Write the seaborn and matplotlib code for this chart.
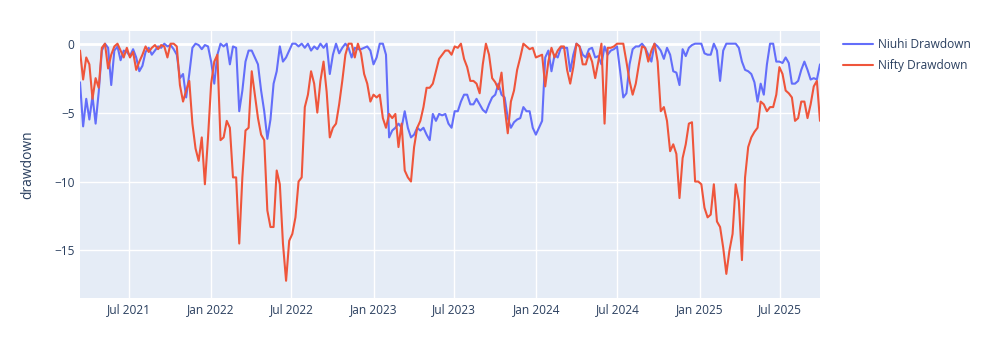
import numpy as np
import pandas as pd
import matplotlib
matplotlib.use("Agg")
import matplotlib.pyplot as plt
import matplotlib.dates as mdates
import seaborn as sns

# Weekly drawdown (%) of the Niuhi portfolio and the Nifty index
start_date = "2021-03-14"
niuhi = [
    -2.8, -6.0, -4.0, -5.5, -3.8, -5.8, -3.5, -0.5, 0.0, -0.3,
    -3.0, -0.5, -0.2, -1.2, -0.5, -0.6, -0.9, -0.4, -1.0, -2.0,
    -1.6, -0.6, -0.3, -0.8, -0.5, -0.2, -0.3, 0.0, -0.2, -0.1,
    -0.4, -0.8, -2.5, -2.2, -3.9, -2.2, -0.3, 0.0, -0.1, -0.4,
    -0.1, -0.2, -1.3, -2.9, -0.8, 0.0, -0.2, 0.0, -1.5, -0.2,
    -0.3, -4.9, -3.4, -1.3, -0.5, -0.5, -1.0, -1.5, -3.4, -4.9,
    -6.9, -5.5, -2.9, -2.0, -0.2, -1.3, -1.0, -0.5, 0.0, 0.0,
    -0.2, 0.0, -0.3, 0.0, -0.5, -0.2, -0.4, 0.0, -0.3, 0.0,
    -2.2, -0.8, 0.0, -0.7, -0.3, 0.0, -0.3, -1.0, -0.3, -0.4,
    -0.4, -0.3, -0.2, -0.5, -1.5, -1.0, 0.0, 0.0, -0.8, -6.8,
    -6.3, -6.1, -5.8, -6.1, -4.9, -6.1, -6.8, -6.6, -6.1, -6.3,
    -6.1, -6.6, -7.0, -5.1, -5.6, -5.1, -5.2, -5.1, -5.8, -6.1,
    -4.9, -4.9, -4.2, -3.7, -3.7, -4.4, -4.4, -4.0, -4.4, -4.8,
    -5.0, -4.4, -3.9, -3.7, -2.9, -3.7, -3.9, -5.4, -6.1, -5.7,
    -5.5, -5.4, -4.6, -4.9, -4.9, -6.1, -6.6, -6.1, -5.6, -1.0,
    -0.5, -2.0, -0.8, -1.0, -0.3, -0.3, -0.3, -2.0, -0.8, 0.0,
    -0.2, -0.8, -1.0, -0.4, -0.3, -1.0, -0.9, -1.5, -0.2, -0.8,
    -0.5, -0.4, -0.2, -2.0, -3.9, -3.6, -1.5, -0.4, -0.2, -0.2,
    0.0, -0.3, -0.8, -1.3, 0.0, -0.2, -0.5, -1.1, -0.3, -0.8,
    -2.0, -2.1, -3.0, -0.4, -0.9, -0.3, -0.1, 0.0, 0.0, 0.0,
    -0.7, -0.8, -0.8, 0.0, -0.5, -2.7, -0.5, 0.0, 0.0, 0.0,
    0.0, -0.3, -1.3, -1.9, -2.0, -2.2, -2.8, -4.2, -2.9, -3.7,
    -1.5, 0.0, 0.0, -1.3, -1.3, -1.4, -1.0, -1.4, -2.9, -2.9,
    -2.7, -1.9, -1.3, -1.9, -2.6, -2.5, -2.6, -1.5,
]
nifty = [
    -0.5, -2.6, -1.0, -1.5, -4.0, -2.5, -3.2, -0.3, 0.0, -1.8,
    -0.8, -0.2, 0.0, -0.5, -1.0, -0.3, -1.0, -0.6, -1.9, -1.3,
    -0.8, -0.2, -0.6, -0.3, -0.1, -0.4, -0.1, -0.2, -1.0, 0.0,
    0.0, -0.2, -3.0, -4.2, -3.4, -2.7, -5.8, -7.6, -8.5, -6.8,
    -10.2, -6.8, -2.9, -1.3, -0.8, -7.0, -6.8, -5.6, -6.1, -9.7,
    -9.7, -14.5, -9.7, -6.3, -6.1, -2.0, -3.7, -5.4, -6.6, -7.0,
    -12.1, -13.3, -13.3, -9.2, -10.2, -14.5, -17.2, -14.3, -13.8, -12.6,
    -10.0, -9.7, -4.6, -3.7, -2.0, -2.9, -5.0, -2.7, -1.3, -3.5,
    -6.8, -6.1, -5.8, -4.4, -2.7, -0.8, 0.0, 0.0, -1.0, 0.0,
    -0.7, -2.2, -2.9, -4.2, -3.7, -3.9, -3.7, -5.4, -6.1, -5.1,
    -5.4, -5.1, -7.5, -5.8, -9.2, -9.7, -10.0, -7.5, -6.1, -5.6,
    -4.6, -3.2, -3.2, -2.9, -2.0, -1.1, -0.8, -0.5, -0.5, -0.8,
    -0.2, -0.3, 0.0, -1.1, -1.7, -2.7, -2.7, -2.9, -3.6, -1.5,
    0.0, -0.8, -2.5, -2.8, -3.3, -2.1, -4.6, -6.5, -4.2, -3.4,
    -1.9, -1.0, 0.0, -0.2, -0.4, -0.3, -1.0, -0.9, -0.8, -3.1,
    -1.3, -0.3, -1.0, -0.5, -0.2, -0.2, -1.9, -2.9, -1.7, 0.0,
    -0.2, -1.5, -1.5, -0.7, -1.3, -2.5, -1.3, 0.0, -5.8, -0.3,
    -0.3, -0.2, 0.0, 0.0, 0.0, -1.3, -2.7, -3.7, -2.9, -1.5,
    -0.2, -0.3, -1.3, -0.5, 0.0, -1.3, -4.9, -4.6, -5.6, -7.8,
    -7.3, -8.0, -11.2, -8.3, -7.3, -5.8, -5.7, -10.0, -10.0, -10.2,
    -11.9, -12.6, -12.4, -10.2, -12.9, -13.3, -14.8, -16.7, -15.0, -13.8,
    -10.2, -11.4, -15.7, -9.7, -7.5, -6.8, -6.4, -6.1, -4.2, -4.4,
    -4.9, -4.6, -4.6, -3.7, -1.7, -2.2, -3.4, -3.6, -3.9, -5.6,
    -5.4, -4.2, -4.2, -5.4, -4.4, -3.1, -2.7, -5.6,
]
series_names = ["Niuhi Drawdown", "Nifty Drawdown"]
y_ticks = [0, -5, -10, -15]

dates = pd.date_range(start_date, periods=len(niuhi), freq="7D")
n = len(dates)
df = pd.DataFrame({
    "date": np.concatenate([dates, dates]),
    "drawdown": niuhi + nifty,
    "series": [series_names[0]] * n + [series_names[1]] * n,
})

text_color = "#2a3f5f"
sns.set_style("darkgrid", {
    "axes.facecolor": "#E5ECF6",
    "grid.color": "white",
    "axes.edgecolor": "#E5ECF6",
})
plt.rcParams["font.family"] = ["Open Sans", "DejaVu Sans"]

fig = plt.figure(figsize=(9.92, 3.49), dpi=100)
fig.patch.set_facecolor("white")
ax = fig.add_axes([80 / 992, 51 / 349, 740 / 992, 267 / 349])

ax.axhline(0, color="white", linewidth=2, zorder=1)
sns.lineplot(
    data=df, x="date", y="drawdown", hue="series",
    palette=["#636EFA", "#EF553B"], linewidth=1.5, ax=ax, zorder=3,
)

ax.set_xlim(dates[0], dates[-1])
ax.set_ylim(-18.45, 0.92)
ax.set_yticks(y_ticks)
ax.xaxis.set_major_locator(mdates.MonthLocator(bymonth=[1, 7]))
ax.xaxis.set_major_formatter(mdates.DateFormatter("%b %Y"))
ax.grid(True, color="white", linewidth=1)
ax.tick_params(axis="both", length=0, labelsize=8.6, labelcolor=text_color, pad=4)
for s in ax.spines.values():
    s.set_visible(False)

ax.set_xlabel("")
ax.set_ylabel("drawdown", fontsize=10, color=text_color)
ax.yaxis.set_label_coords(-0.061, 0.5)

handles, labels = ax.get_legend_handles_labels()
ax.get_legend().remove()
fig.legend(
    handles, labels, loc="upper left", bbox_to_anchor=(838 / 992, 1 - 33 / 349),
    frameon=False, fontsize=8.6, labelcolor=text_color,
    handlelength=2.5, handletextpad=0.45, labelspacing=0.7, borderaxespad=0,
)

fig.savefig("out.png", dpi=100)
